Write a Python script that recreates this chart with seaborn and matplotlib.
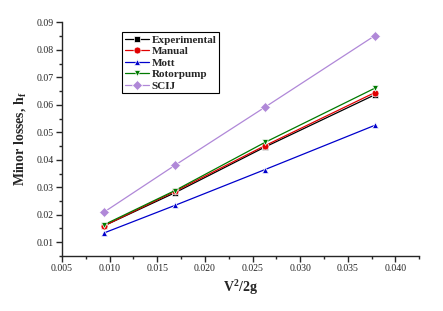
import matplotlib
matplotlib.use('Agg')
import matplotlib.pyplot as plt
import numpy as np
import pandas as pd
import seaborn as sns

# V^2/2g values
velocity_head = [0.00943, 0.01685, 0.02628, 0.0378]

experimental = [0.016, 0.028, 0.0446, 0.0636]
manual = [0.016, 0.0285, 0.0451, 0.0644]
mott = [0.0134, 0.0234, 0.0364, 0.0525]
rotorpump = [0.0164, 0.0288, 0.0463, 0.066]
scij = [0.021, 0.038, 0.0591, 0.0851]

series_names = ['Experimental', 'Manual', 'Mott', 'Rotorpump', 'SCIJ']
series_values = [experimental, manual, mott, rotorpump, scij]

df = pd.DataFrame({
    'V2/2g': np.tile(velocity_head, len(series_names)),
    'hf': np.concatenate(series_values),
    'Series': np.repeat(series_names, len(velocity_head)),
})

colors = {'Experimental': 'black', 'Manual': '#e00000', 'Mott': '#0000cc',
          'Rotorpump': '#007a00', 'SCIJ': '#b088d8'}
markers = {'Experimental': 's', 'Manual': 'o', 'Mott': '^',
           'Rotorpump': 'v', 'SCIJ': 'D'}

sns.set_style('ticks')
plt.rcParams['font.family'] = ['Liberation Serif', 'DejaVu Serif']
plt.rcParams['mathtext.fontset'] = 'custom'
plt.rcParams['mathtext.rm'] = 'Liberation Serif'
plt.rcParams['mathtext.bf'] = 'Liberation Serif:bold'

fig = plt.figure(figsize=(4.43, 3.11), dpi=100)
ax = fig.add_axes([0.14, 0.177, 0.8065, 0.751])

sns.lineplot(data=df, x='V2/2g', y='hf', hue='Series', style='Series',
             palette=colors, markers=markers, dashes=False,
             markersize=5, markeredgewidth=0.5, linewidth=0.9,
             hue_order=series_names, style_order=series_names, ax=ax)

ax.set_xlim(0.005, 0.0425)
ax.set_ylim(0.005, 0.09)
ax.set_xticks(np.arange(0.005, 0.0401, 0.005))
ax.set_xticks(np.arange(0.0075, 0.043, 0.005), minor=True)
ax.set_yticks(np.arange(0.01, 0.0901, 0.01))
ax.set_yticks(np.arange(0.005, 0.0901, 0.005), minor=True)
ax.xaxis.set_major_formatter(matplotlib.ticker.FormatStrFormatter('%.3f'))
ax.yaxis.set_major_formatter(matplotlib.ticker.FormatStrFormatter('%.2f'))
ax.tick_params(which='major', length=4, width=1, labelsize=7, pad=2)
ax.tick_params(which='minor', length=2.5, width=1)
for s in ['left', 'bottom']:
    ax.spines[s].set_linewidth(1)
sns.despine(ax=ax)

ax.set_xlabel(r'V$^\mathbf{2}$/2g', fontsize=10, fontweight='bold', labelpad=3)
ax.set_ylabel(r'Minor losses, h$_\mathbf{f}$', fontsize=10, fontweight='bold', labelpad=6)

leg = ax.legend(loc='upper left', bbox_to_anchor=(0.168, 0.958), borderaxespad=0,
                fancybox=False, edgecolor='black', framealpha=1,
                prop={'weight': 'bold', 'size': 8}, labelspacing=0.15,
                handlelength=2.2, handletextpad=0.2, borderpad=0.25)
leg.get_frame().set_linewidth(0.8)

fig.savefig('out.png', dpi=100)
